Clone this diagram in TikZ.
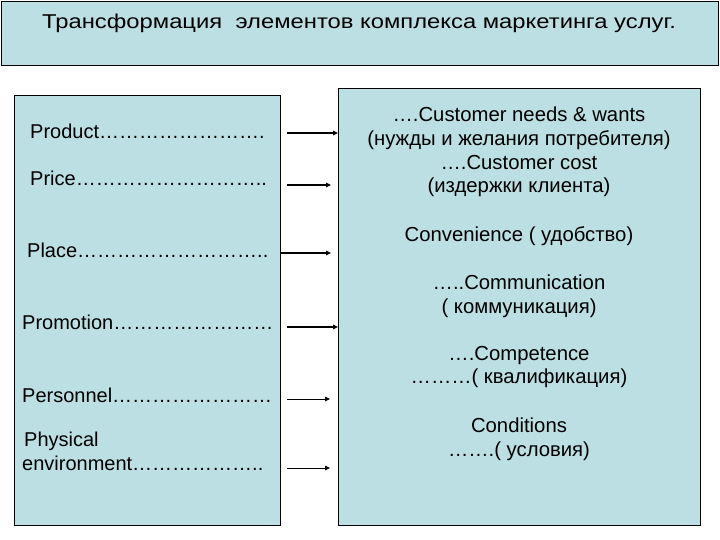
\documentclass[tikz,border=0pt]{standalone}
\usepackage{fontspec}
\setmainfont{Liberation Sans}
\newfontfamily\titlefont[FakeStretch=1.19]{Liberation Sans}
\usetikzlibrary{arrows.meta}
\definecolor{boxfill}{RGB}{187,223,227}
\tikzset{
  panel/.style={draw=black, line width=0.9pt, fill=boxfill},
  lt/.style={anchor=west, inner sep=0pt, font=\fontsize{20}{24}\selectfont},
  rt/.style={anchor=center, inner sep=0pt, align=center, font=\fontsize{20.3}{23.7}\selectfont},
  arr/.style={-{Triangle[length=5pt,width=4.5pt]}, line width=1.6pt},
  arrthin/.style={-{Triangle[length=5pt,width=4.5pt]}, line width=0.8pt},
}
\begin{document}
\begin{tikzpicture}[x=1pt,y=-1pt]
\useasboundingbox (0,0) rectangle (720,540);
% panels
\node[panel, minimum width=717pt, minimum height=64pt, anchor=north west, inner sep=0pt] (title) at (1,1) {};
\node[font=\titlefont\fontsize{20}{22}\selectfont, inner sep=0pt] (titletext) at (359,23) {Трансформация \ элементов комплекса маркетинга услуг.};
\node[panel, minimum width=266pt, minimum height=430pt, anchor=north west, inner sep=0pt] (left) at (14,95) {};
\node[panel, minimum width=362pt, minimum height=437pt, anchor=north west, inner sep=0pt] (right) at (338,88) {};
% left texts
\node[lt] (product) at (30,131) {Product…………………….};
\node[lt] (price) at (30,178) {Price………………………..};
\node[lt] (place) at (27,250) {Place………………………..};
\node[lt] (promotion) at (22,322) {Promotion……………………};
\node[lt] (personnel) at (22,395) {Personnel……………………};
\node[lt, align=left, anchor=north west] (physical) at (22,432) {\hspace*{2pt}Physical\\environment………………..};
% right texts
\node[rt] (needs) at (519,152) {….Customer needs \& wants\\(нужды и желания потребителя)\\….Customer cost\\(издержки клиента)};
\node[rt] (conv) at (519,236) {Convenience ( удобство)};
\node[rt] (comm) at (519,296) {…..Communication\\( коммуникация)};
\node[rt] (comp) at (519,367) {….Competence\\………( квалификация)};
\node[rt] (cond) at (519,439) {Conditions\\…….( условия)};
% arrows
\coordinate (a1s) at (287,133); \coordinate (a1e) at (338,133);
\coordinate (a2s) at (287,185); \coordinate (a2e) at (331,185);
\coordinate (a3s) at (281,253); \coordinate (a3e) at (331,253);
\coordinate (a4s) at (287,327); \coordinate (a4e) at (338,327);
\coordinate (a5s) at (287,399); \coordinate (a5e) at (330,399);
\coordinate (a6s) at (287,468); \coordinate (a6e) at (330,468);
\draw[arr] (a1s) -- (a1e);
\draw[arr] (a2s) -- (a2e);
\draw[arr] (a3s) -- (a3e);
\draw[arr] (a4s) -- (a4e);
\draw[arrthin] (a5s) -- (a5e);
\draw[arrthin] (a6s) -- (a6e);
\end{tikzpicture}
\end{document}
